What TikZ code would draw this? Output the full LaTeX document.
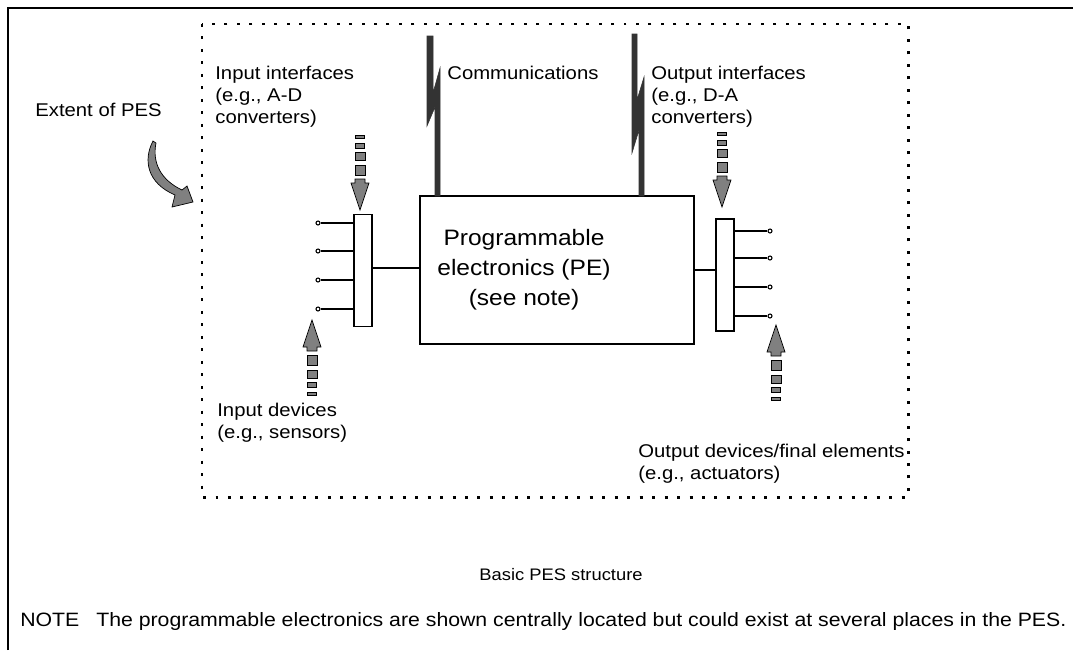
\documentclass[tikz,border=0pt]{standalone}
\usepackage{fontspec}
\setmainfont{Liberation Sans}[FakeStretch=1.1]
\usetikzlibrary{positioning}

\begin{document}
\begin{tikzpicture}[
    x=0.02cm, y=-0.02cm,
    lbl/.style={inner sep=0pt, anchor=north west, align=left, font=\fontsize{10.5}{12.5}\selectfont},
    pebox/.style={rectangle, draw=black, line width=0.8pt, minimum width=5.48cm, minimum height=2.96cm},
    bar/.style={rectangle, draw=black, line width=0.7pt, fill=white, minimum width=0.36cm, minimum height=2.25cm},
    term/.style={circle, draw=black, line width=0.6pt, fill=white, inner sep=0pt, minimum size=0.08cm},
    wire/.style={line width=0.7pt},
    bolt/.style={fill=black!80, draw=black!80, line width=0.3pt},
    arrowfill/.style={fill=black!50, draw=black, line width=0.4pt},
    stripearrow/.pic={
        \draw[arrowfill] (0,0) -- (9,27) -- (5,27) -- (5,31) -- (-5,31) -- (-5,27) -- (-9,27) -- cycle;
        \draw[arrowfill] (-5,35) rectangle (5,45);
        \draw[arrowfill] (-5,50) rectangle (5,58);
        \draw[arrowfill] (-4.5,62) rectangle (4.5,67);
        \draw[arrowfill] (-4.5,72) rectangle (4.5,75);
    }
]
\useasboundingbox (0,0) rectangle (1081,650);

% Frame
\draw[line width=1.1pt] (8,650) -- (8,8) -- (1073,8);

% Extent of the PES
\draw[line width=1.7pt, dash pattern=on 1.7pt off 5.4pt] (202,24) rectangle (908,497);

% Main blocks
\node [pebox] (pe) at (557,270) {};
\node [font=\fontsize{12.7}{17}\selectfont, align=center] (pelabel) at (524,270) {Programmable\\electronics (PE)\\(see note)};
\node [bar] (inbar) at (363,270.5) {};
\node [bar, minimum height=2.24cm] (outbar) at (725,275) {};

% Connections between blocks
\draw [wire] (inbar.east |- 0,268) -- (pe.west |- 0,268);
\draw [wire] (pe.east |- 0,270) -- (outbar.west |- 0,270);

% Input and output terminals
\node [term] (in1) at (318,223) {};
\node [term] (in2) at (318,251) {};
\node [term] (in3) at (318,280) {};
\node [term] (in4) at (318,309) {};
\node [term] (out1) at (770,231) {};
\node [term] (out2) at (770,258) {};
\node [term] (out3) at (770,287) {};
\node [term] (out4) at (770,316) {};
\foreach \i in {1,...,4} {
    \draw [wire] (in\i) -- (in\i -| inbar.west);
    \draw [wire] (out\i) -- (out\i -| outbar.east);
}

% Communication links
\draw [bolt] (427,36) -- (433,36) -- (433,93) -- (440,68) -- (440,196) -- (435,196) -- (435,107) -- (427,126) -- cycle;
\draw [bolt] (632,34) -- (637,34) -- (637,100) -- (644,77) -- (644,196) -- (639,196) -- (639,130) -- (632,153) -- cycle;

% Striped arrows
\pic [rotate=180] at (360,210) {stripearrow};
\pic [rotate=180] at (722,207) {stripearrow};
\pic at (312,320) {stripearrow};
\pic at (776,325) {stripearrow};

% Curved arrow to the extent
\draw [arrowfill] (153,141) .. controls (143,160) and (147,183) .. (175,195) -- (172,207) -- (193,202) -- (187,186) -- (182,190) .. controls (161,180) and (152,163) .. (156,143) -- cycle;

% Labels
\node [lbl] (extent) at (35,103) {Extent of PES};
\node [lbl] (inif) at (215,66) {Input interfaces\\(e.g., A-D\\converters)};
\node [lbl] (comm) at (447,66) {Communications};
\node [lbl] (outif) at (651,66) {Output interfaces\\(e.g., D-A\\converters)};
\node [lbl] (indev) at (217,403) {Input devices\\(e.g., sensors)};
\node [lbl] (outdev) at (638,444) {Output devices/final elements\\(e.g., actuators)};
\node [font=\fontsize{9.5}{11}\selectfont] (caption) at (561,575) {Basic PES structure};
\node [lbl, font=\fontsize{11}{13}\selectfont] (note) at (20,612) {NOTE\hspace{9.6pt}The programmable electronics are shown centrally located but could exist at several places in the PES.};

\end{tikzpicture}
\end{document}
